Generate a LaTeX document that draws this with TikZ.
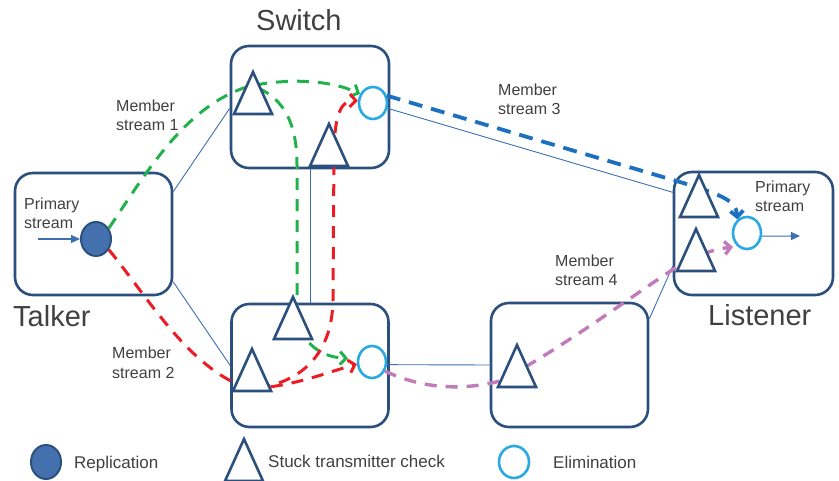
\documentclass[tikz,border=0pt]{standalone}
\usepackage{fontspec}
\setmainfont{Liberation Sans}
\usetikzlibrary{arrows.meta,shapes.geometric}
\definecolor{navy}{HTML}{2C507D}
\definecolor{replfill}{HTML}{4471AD}
\definecolor{elimblue}{HTML}{29A9E1}
\definecolor{linkblue}{HTML}{3C6EB4}
\definecolor{sgreen}{HTML}{21B24B}
\definecolor{sred}{HTML}{ED1C24}
\definecolor{spurple}{HTML}{C27BBA}
\definecolor{sblue}{HTML}{1C70BF}
\definecolor{txt}{HTML}{404040}
\begin{document}
\begin{tikzpicture}[x=1pt,y=-1pt,
  box/.style={draw=navy,line width=2.6pt,rounded corners=18pt,inner sep=0pt},
  tri/.style={draw=navy,line width=2.6pt,fill=white,line join=miter},
  elim/.style={ellipse,draw=elimblue,line width=2.6pt,fill=white,minimum width=28pt,minimum height=32pt,inner sep=0pt},
  repl/.style={ellipse,draw=navy,line width=2pt,fill=replfill,minimum width=30pt,minimum height=34pt,inner sep=0pt},
  link/.style={draw=linkblue,line width=0.9pt},
  stream/.style={line width=3pt,dash pattern=on 12pt off 9pt,-{Straight Barb[length=6pt,width=13pt]}},
  lbl/.style={text=txt,font=\fontsize{16}{19.5}\selectfont,align=left,inner sep=0pt,anchor=base west},
  big/.style={text=txt,font=\fontsize{29}{34}\selectfont,inner sep=0pt,anchor=base west},
  leg/.style={text=txt,font=\fontsize{17}{20}\selectfont,inner sep=0pt,anchor=base west},
  parrow/.style={draw=linkblue,line width=1.1pt,-{Triangle[length=9pt,width=8pt]}},
  stc/.pic={\path[tri] (0,0) -- (19,42) -- (-19,42) -- cycle;}
]
\useasboundingbox (0,0) rectangle (839,481);

% boxes
\node[box,minimum width=157pt,minimum height=122pt] (talker) at (93.5,234) {};
\node[box,minimum width=158pt,minimum height=122pt] (sw1) at (310,107) {};
\node[box,minimum width=157pt,minimum height=123pt] (sw2) at (310,365.5) {};
\node[box,minimum width=157pt,minimum height=124pt] (sw3) at (569.5,365) {};
\node[box,minimum width=159pt,minimum height=123pt] (lis) at (753.5,233.5) {};

% replication / elimination
\node[repl] (rep) at (96,239) {};
\node[elim] (e1) at (373,103) {};
\node[elim] (e2) at (372,362) {};
\node[elim] (e3) at (747,233) {};

% thin links
\draw[link] (talker.28) -- (sw1.181);
\draw[link] (talker.-31) -- (sw2.west);
\draw[link] (sw1.south) -- (sw2.north);
\draw[link] (e1.-20) -- (lis.153);
\draw[link] (e2.-10) -- (sw3.west);
\draw[link] (sw3.30) -- (lis.202);

% primary stream arrows
\coordinate (pin) at (38,239);
\draw[parrow] (pin) -- (rep.west);
\coordinate (pout) at (800,236);
\draw[parrow] (e3.-12) -- (pout);

% member streams
\coordinate (gsplit) at (258,88);
\coordinate (rsplit) at (250,389);
\coordinate (p4end) at (733,247);
\draw[stream,sgreen] (rep.40) .. controls (145,175) and (185,105) .. (250,86) .. controls (290,78) and (330,80) .. (e1.145);
\draw[stream,sgreen,shorten >=9pt] (gsplit) .. controls (285,100) and (297,125) .. (297,165) -- (297,310) .. controls (298,340) and (318,357) .. (e2.168);
\draw[stream,sred] (rep.-40) .. controls (150,300) and (190,370) .. (rsplit) .. controls (295,385) and (332,360) .. (333,300) -- (334,150) .. controls (335,112) and (342,100) .. (e1.172);
\draw[stream,sred] (rsplit) .. controls (295,386) and (325,373) .. (e2.188);
\draw[stream,sblue,line width=3.8pt,dash pattern=on 14pt off 9pt] (e1.28) -- (690,185) .. controls (720,195) and (736,200) .. (e3.125);
\draw[stream,spurple,line width=3.4pt] (e2.-35) .. controls (425,390) and (465,390) .. (500,381) .. controls (560,350) and (640,290) .. (680,265) .. controls (700,254) and (715,249) .. (p4end);

% stuck transmitter checks
\pic at (253,72) {stc};
\pic at (329,124) {stc};
\pic at (293,297) {stc};
\pic at (252,349) {stc};
\pic at (517,345) {stc};
\pic at (699,175) {stc};
\pic at (696,229) {stc};

% labels
\node[big] (tsw) at (256,31) {Switch};
\node[big] (ttalk) at (13,327) {Talker};
\node[big] (tlis) at (708,326) {Listener};
\node[lbl] (ms1) at (116,131) {Member\\stream 1};
\node[lbl] (ms2) at (112,378) {Member\\stream 2};
\node[lbl] (ms3) at (498,115) {Member\\stream 3};
\node[lbl] (ms4) at (555,286) {Member\\stream 4};
\node[lbl] (ps1) at (24,229) {Primary\\stream};
\node[lbl] (ps2) at (755,212) {Primary\\stream};

% legend
\node[repl] (lrep) at (46,462) {};
\node[leg] (lrept) at (74,468) {Replication};
\pic at (244,439) {stc};
\node[leg] (lstct) at (268,467) {Stuck transmitter check};
\node[elim,minimum width=30pt] (lel) at (514,462) {};
\node[leg] (lelt) at (553,468) {Elimination};
\end{tikzpicture}
\end{document}
